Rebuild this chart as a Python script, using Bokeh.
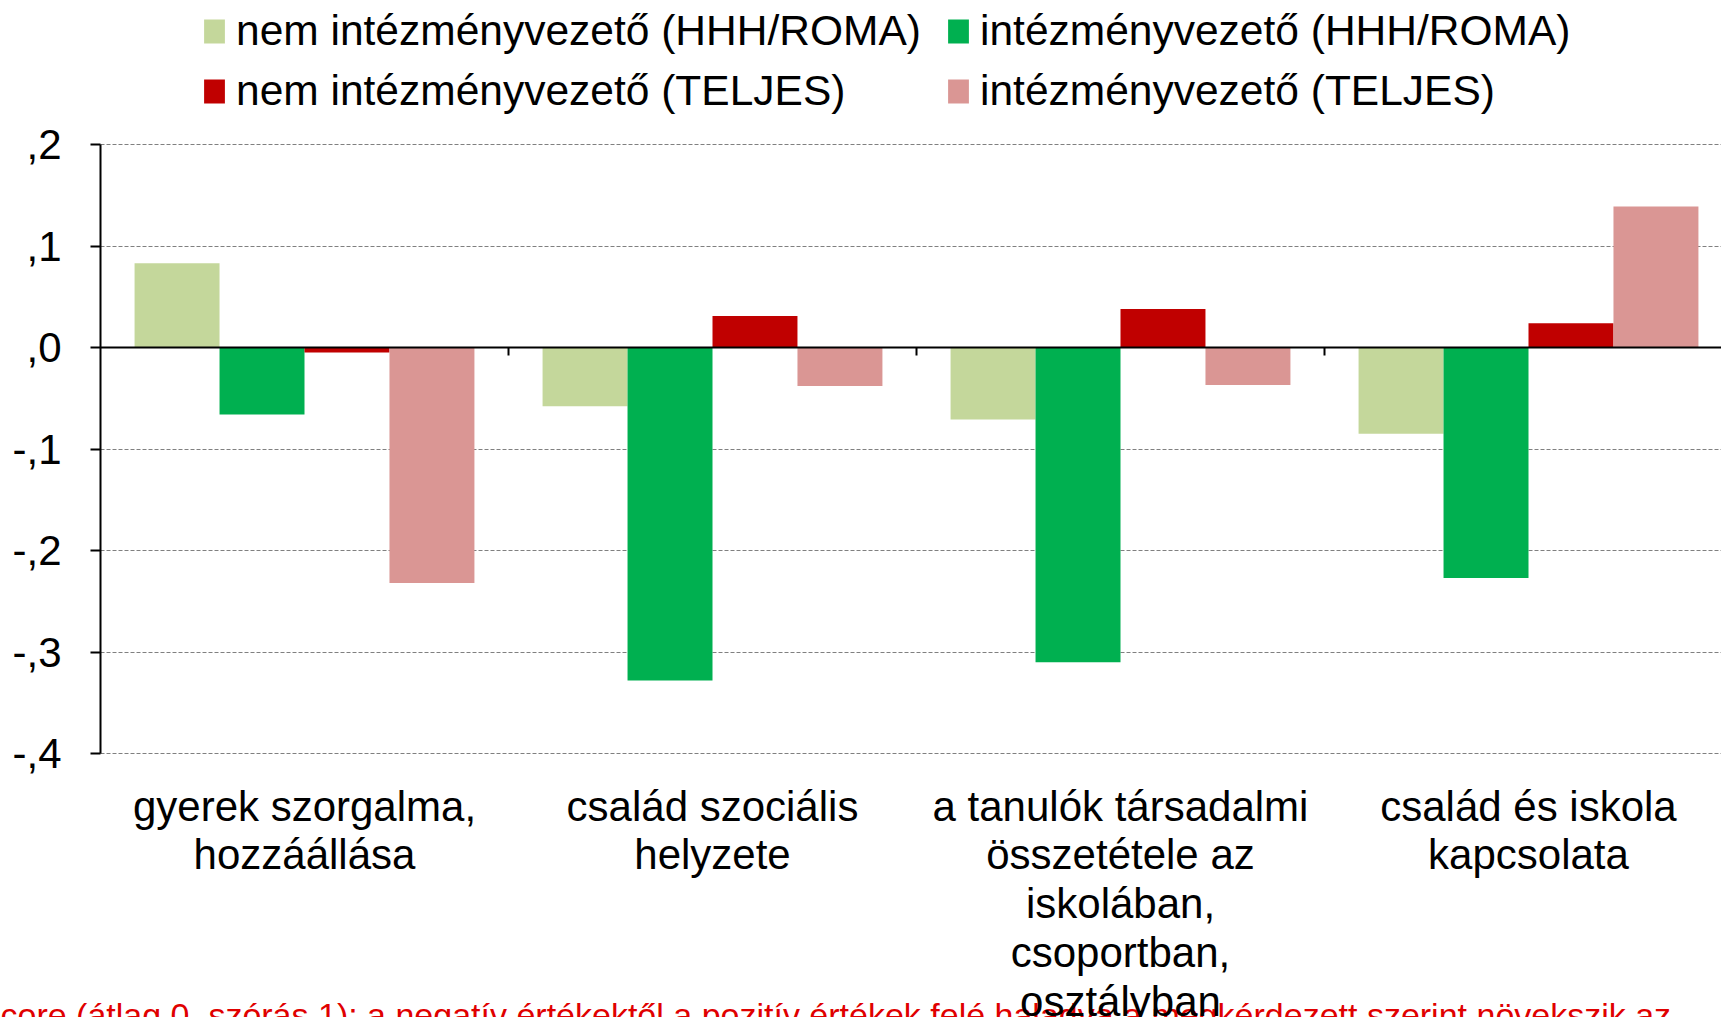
from bokeh.plotting import figure
from bokeh.models import (Range1d, FixedTicker, Legend, LegendItem, Label,
                          ColumnDataSource)
from bokeh.embed import file_html
from bokeh.resources import INLINE

categories = ["gyerek szorgalma,\nhozzáállása",
              "család szociális\nhelyzete",
              "a tanulók társadalmi\nösszetétele az\niskolában,\ncsoportban,\nosztályban",
              "család és iskola\nkapcsolata"]
series = ["nem intézményvezető (HHH/ROMA)", "intézményvezető (HHH/ROMA)",
          "nem intézményvezető (TELJES)", "intézményvezető (TELJES)"]
colors = ["#C4D79B", "#00B050", "#C00000", "#DA9694"]
values = [
    [0.083, -0.058, -0.071, -0.085],
    [-0.066, -0.328, -0.310, -0.227],
    [-0.005, 0.031, 0.038, 0.024],
    [-0.232, -0.038, -0.037, 0.139],
]
y_ticks = [0.2, 0.1, 0.0, -0.1, -0.2, -0.3, -0.4]
y_tick_labels = [",2", ",1", ",0", "-,1", "-,2", "-,3", "-,4"]
footnote = "core (átlag 0, szórás 1): a negatív értékektől a pozitív értékek felé haladva a megkérdezett szerint növekszik az"

FONT = "Liberation Sans"
W, H = 1721, 1017
ax_left, ax_top, ax_bottom = 100, 144, 753      # pixel layout of the value axis
cat_px = 408.0
px_per_unit = (ax_bottom - ax_top) / 0.6
y_lo, y_hi = min(y_ticks), max(y_ticks)
x_start = -ax_left / cat_px
x_end = (W - ax_left) / cat_px

p = figure(width=W, height=H, output_backend="svg", toolbar_location=None,
           x_range=Range1d(x_start, x_end),
           y_range=Range1d(y_lo - (H - ax_bottom) / px_per_unit, y_hi + ax_top / px_per_unit),
           min_border=0)
p.outline_line_color = None

group_w = 0.833
bar_w = group_w / len(series)
renderers = []
for si, (name, col, vals) in enumerate(zip(series, colors, values)):
    xs = [ci + 0.5 - group_w / 2 + bar_w * (si + 0.5) for ci in range(len(categories))]
    src = ColumnDataSource(dict(x=xs, top=vals))
    r = p.vbar(x="x", top="top", bottom=0, width=bar_w, source=src,
               fill_color=col, line_color=None)
    renderers.append(r)

# zero line and category boundary ticks
p.segment(x0=[0], x1=[x_end], y0=[0], y1=[0], line_color="black", line_width=2)
bx = list(range(1, len(categories)))
p.segment(x0=bx, x1=bx, y0=[0] * len(bx), y1=[-8 / px_per_unit] * len(bx),
          line_color="black", line_width=2)

# grid
p.xgrid.grid_line_color = None
p.ygrid.ticker = FixedTicker(ticks=y_ticks)
p.ygrid.cross_bounds = (0, x_end)
p.ygrid.grid_line_color = "#808080"
p.ygrid.grid_line_dash = "4 2"
p.ygrid.grid_line_width = 1

# y axis
yax = p.yaxis[0]
yax.fixed_location = 0
yax.bounds = (y_lo, y_hi)
yax.ticker = FixedTicker(ticks=y_ticks)
yax.major_label_overrides = {t: l for t, l in zip(y_ticks, y_tick_labels)}
yax.axis_line_color = "black"
yax.axis_line_width = 2
yax.major_tick_line_color = "black"
yax.major_tick_line_width = 2
yax.major_tick_out = 10
yax.major_tick_in = 0
yax.minor_tick_line_color = None
yax.major_label_text_font = FONT
yax.major_label_text_font_size = "42px"
yax.major_label_text_color = "black"
yax.major_label_standoff = 29

# x axis (category labels)
centers = [ci + 0.5 for ci in range(len(categories))]
xax = p.xaxis[0]
xax.fixed_location = y_lo
xax.ticker = FixedTicker(ticks=centers)
xax.major_label_overrides = {c: l for c, l in zip(centers, categories)}
xax.axis_line_color = None
xax.major_tick_line_color = None
xax.major_tick_out = 0
xax.major_tick_in = 0
xax.minor_tick_line_color = None
xax.major_label_text_font = FONT
xax.major_label_text_font_size = "42px"
xax.major_label_text_line_height = 1.04
xax.major_label_text_color = "black"
xax.major_label_standoff = 29
if "major_label_background_fill_color" in xax.properties():
    xax.major_label_background_fill_color = "white"

# footnote (partly outside the window, as in the reference)
lab = Label(x=x_start, y=y_lo - 242 / px_per_unit, text=footnote,
            text_font=FONT, text_font_size="34px", text_color="#E00000",
            text_baseline="top", level="underlay")
p.add_layout(lab)

legend = Legend(items=[LegendItem(label=n, renderers=[r]) for n, r in zip(series, renderers)],
                location=(201, H - 115), orientation="horizontal", ncols=2,
                label_text_font=FONT, label_text_font_size="42.5px",
                label_text_color="black", glyph_width=26, glyph_height=30,
                label_standoff=9, label_width=697, spacing=12, padding=0, margin=0,
                border_line_color=None, background_fill_alpha=0)
p.add_layout(legend)

open("out.html", "w").write(file_html(p, INLINE))
